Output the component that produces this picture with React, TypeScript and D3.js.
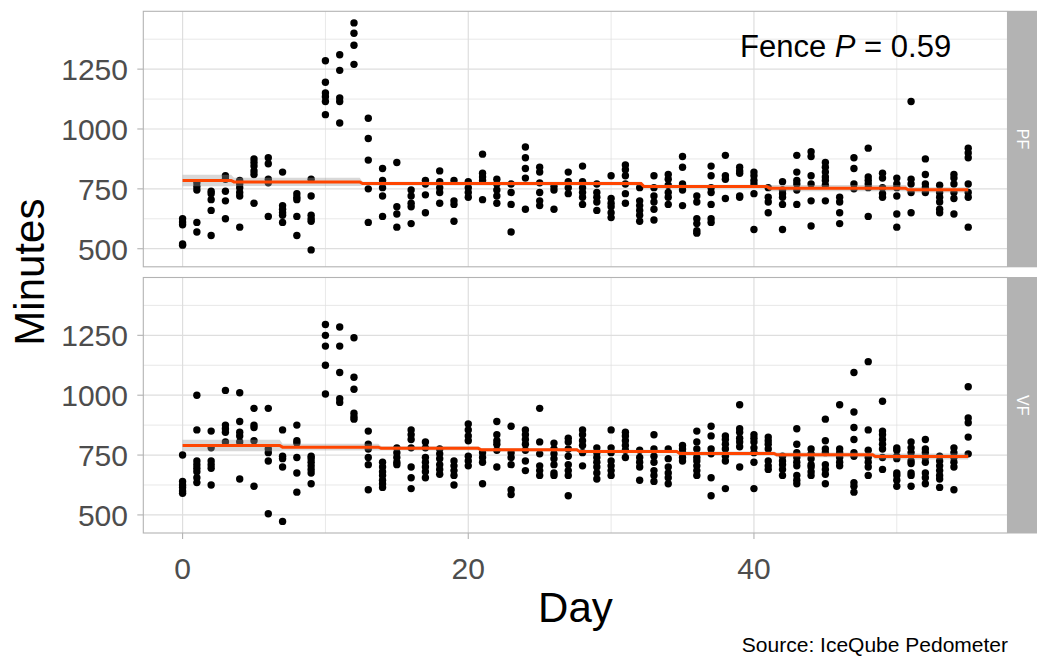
import React, { useEffect } from 'react';
import * as d3 from 'd3';

// ---------- data (minutes per cow per day) ----------
const facetLabels = ['PF', 'VF'];
const xTicks = [0, 20, 40];
const xMinorTicks = [10, 30, 50];
const yTicks = [500, 750, 1000, 1250];
const yMinorTicks = [625, 875, 1125, 1375];

// index = day (0..55)
const pfMinutes: number[][] = [
  [515, 520, 600, 612, 625],
  [775, 760, 745, 610, 570],
  [740, 730, 705, 660, 555],
  [805, 790, 740, 700, 625],
  [785, 770, 755, 735, 720, 590],
  [875, 860, 845, 825, 810, 690],
  [880, 855, 790, 775, 635],
  [820, 680, 665, 650, 640, 610],
  [730, 715, 705, 635, 555],
  [790, 720, 640, 625, 615, 495],
  [1285, 1195, 1150, 1135, 1115, 1060],
  [1310, 1245, 1130, 1115, 1025],
  [1443, 1400, 1350, 1270],
  [1045, 960, 870, 750, 610],
  [835, 785, 755, 720, 635],
  [860, 675, 645, 590],
  [745, 720, 690, 675, 605],
  [785, 770, 725, 650],
  [825, 780, 755, 735, 690],
  [785, 700, 685, 615],
  [780, 755, 735, 715],
  [895, 815, 800, 785, 705],
  [790, 770, 745, 720, 690],
  [770, 735, 685, 570],
  [925, 880, 835, 795, 665],
  [840, 820, 775, 735, 700, 680],
  [760, 745, 665],
  [820, 780, 755, 730],
  [845, 780, 755, 735, 715, 685],
  [770, 735, 715, 695, 660],
  [805, 710, 690, 675, 650, 630],
  [850, 830, 805, 770, 730, 690],
  [755, 700, 680, 660, 640, 615],
  [805, 755, 720, 695, 665, 620],
  [810, 790, 765, 735, 715, 685],
  [885, 840, 770, 745, 680],
  [720, 695, 625, 605, 575, 565],
  [845, 805, 755, 735, 685, 625, 610],
  [890, 805, 790, 710],
  [840, 825, 815, 720, 715],
  [820, 805, 785, 770, 730, 580],
  [755, 715, 695, 650],
  [780, 745, 730, 715, 685, 580],
  [890, 820, 785, 770, 745, 685],
  [905, 885, 805, 770, 700, 595],
  [860, 840, 820, 800, 785, 765, 700],
  [715, 695, 650, 605],
  [880, 835, 770, 750],
  [920, 800, 785, 770, 755, 635],
  [815, 795, 755, 730, 715],
  [795, 770, 755, 720, 645, 590],
  [1115, 790, 770, 735, 650],
  [875, 810, 770, 755, 735],
  [765, 735, 715, 695, 665, 650],
  [810, 795, 770, 735, 710, 645],
  [920, 900, 880, 770, 735, 715, 590],
];

const vfMinutes: number[][] = [
  [750, 640, 625, 615, 600, 590],
  [1000, 855, 725, 710, 695, 680, 655, 635],
  [850, 780, 725, 710, 695, 625],
  [1020, 875, 860, 845, 805],
  [1010, 890, 845, 830, 805, 650],
  [945, 875, 865, 810, 620],
  [945, 775, 760, 725, 505],
  [855, 745, 735, 700, 473],
  [875, 810, 800, 740, 675, 595],
  [745, 735, 720, 705, 690, 675, 630],
  [1295, 1250, 1205, 1125, 1005],
  [1285, 1205, 1095, 985, 970],
  [1240, 1075, 1025, 925, 910, 900],
  [850, 795, 775, 740, 710, 605],
  [720, 700, 680, 665, 645, 630, 615],
  [780, 760, 740, 720, 710],
  [855, 835, 815, 780, 700, 655, 610],
  [805, 780, 740, 720, 700, 680, 655],
  [775, 755, 735, 710, 690, 670],
  [725, 705, 685, 665, 625],
  [880, 855, 830, 810, 745, 725, 705],
  [760, 740, 720, 630],
  [890, 835, 810, 795, 770, 700],
  [870, 760, 740, 710, 605, 585],
  [855, 835, 815, 795, 770, 725, 685],
  [945, 805, 755, 705, 685, 665],
  [800, 775, 755, 735, 710, 675, 665],
  [820, 805, 775, 745, 710, 685, 665, 580],
  [855, 835, 810, 790, 760, 705],
  [780, 760, 740, 720, 700, 675, 650],
  [855, 780, 760, 725, 705, 685, 665],
  [845, 830, 810, 790, 770, 740],
  [770, 740, 720, 700, 645],
  [835, 775, 745, 720, 685, 665, 640],
  [775, 735, 700, 675, 655, 630],
  [790, 775, 760, 740, 725],
  [850, 805, 775, 740, 725, 705, 685, 665],
  [870, 830, 775, 755, 655, 580],
  [830, 815, 795, 775, 745, 725, 610],
  [960, 860, 845, 820, 805, 785, 700],
  [835, 820, 805, 780, 760, 720, 610],
  [825, 810, 795, 775, 725, 705, 690],
  [745, 725, 710, 690, 665],
  [860, 795, 760, 740, 720, 705, 665, 645, 630],
  [775, 755, 735, 710, 700, 680, 665],
  [900, 810, 775, 760, 710, 690, 670, 630],
  [960, 775, 760, 740, 720, 705],
  [1095, 930, 865, 815, 760, 745, 635, 620, 595],
  [1140, 855, 770, 740, 720, 700, 665],
  [975, 850, 835, 815, 795, 775, 740, 690],
  [780, 770, 745, 735, 675, 665, 645, 620],
  [805, 780, 760, 725, 715, 675, 665, 620],
  [815, 775, 760, 740, 720, 675, 655, 630],
  [745, 725, 705, 685, 665, 650, 615],
  [780, 760, 740, 720, 700, 605],
  [1035, 905, 885, 825, 755],
];

// fitted model line (stepwise) and its standard-error band
const pfFitDays = [0, 3.4, 3.6, 12.4, 12.6, 32.1, 32.3, 40.9, 41.1, 50.6, 50.8, 55];
const pfFitValues = [785, 785, 779, 779, 772, 772, 760, 760, 753, 753, 746, 746];
const pfFitSe = [24, 24, 17, 17, 8, 8, 7, 7, 13, 13, 11, 11];

const vfFitDays = [0, 6.8, 7.0, 13.7, 13.9, 20.7, 20.9, 27.6, 27.8, 34.6, 34.8, 41.4, 41.6, 48.3, 48.5, 55];
const vfFitValues = [790, 790, 783, 783, 778, 778, 772, 772, 765, 765, 757, 757, 751, 751, 744, 744];
const vfFitSe = [24, 24, 14, 14, 9, 9, 7, 7, 7, 7, 8, 8, 10, 10, 13, 13];

const annotationText = { label: 'Fence ', italic: 'P', rest: ' = 0.59' };
const captionText = 'Source: IceQube Pedometer';

// ---------- layout ----------
const W = 1037;
const H = 658;
const panelLeft = 143.3;
const panelRight = 1007.5;
const panelTops = [11.3, 277.5];
const panelH = 255.5;
const stripW = 30;
const FONT = '"Liberation Sans", Arial, Helvetica, sans-serif';

export default function App() {
  useEffect(() => {
    document.body.style.margin = '0';
  }, []);

  const panels = [
    { label: facetLabels[0], pts: pfMinutes, fd: pfFitDays, fv: pfFitValues, fs: pfFitSe },
    { label: facetLabels[1], pts: vfMinutes, fd: vfFitDays, fv: vfFitValues, fs: vfFitSe },
  ];

  const allVals = [...pfMinutes.flat(), ...vfMinutes.flat()];
  const [yMin, yMax] = d3.extent(allVals) as [number, number];
  const yPad = (yMax - yMin) * 0.05;
  const xDataMax = pfMinutes.length - 1;
  const xPad = xDataMax * 0.05;

  const x = d3.scaleLinear().domain([0 - xPad, xDataMax + xPad]).range([panelLeft, panelRight]);

  const gridCol = '#DEDEDE';
  const borderCol = '#B3B3B3';

  return (
    <svg
      width={W}
      height={H}
      viewBox={`0 0 ${W} ${H}`}
      style={{ position: 'absolute', left: 0, top: 0, display: 'block', background: '#fff' }}
      fontFamily={FONT}
    >
      <rect x={0} y={0} width={W} height={H} fill="#fff" />
      {panels.map((p, pi) => {
        const top = panelTops[pi];
        const y = d3.scaleLinear().domain([yMin - yPad, yMax + yPad]).range([top + panelH, top]);
        const fitData = p.fd.map((d, i) => ({ d, v: p.fv[i], s: p.fs[i] }));
        const area = d3
          .area<{ d: number; v: number; s: number }>()
          .x((o) => x(o.d))
          .y0((o) => y(o.v - o.s))
          .y1((o) => y(o.v + o.s));
        const line = d3
          .line<{ d: number; v: number; s: number }>()
          .x((o) => x(o.d))
          .y((o) => y(o.v));
        const points: { d: number; v: number }[] = [];
        p.pts.forEach((vals, day) => vals.forEach((v) => points.push({ d: day, v })));
        return (
          <g key={p.label}>
            {/* minor grid */}
            {yMinorTicks.map((t) => (
              <line key={'ym' + t} x1={panelLeft} x2={panelRight} y1={y(t)} y2={y(t)} stroke={gridCol} strokeWidth={0.7} />
            ))}
            {xMinorTicks.map((t) => (
              <line key={'xm' + t} x1={x(t)} x2={x(t)} y1={top} y2={top + panelH} stroke={gridCol} strokeWidth={0.7} />
            ))}
            {/* major grid */}
            {yTicks.map((t) => (
              <line key={'yM' + t} x1={panelLeft} x2={panelRight} y1={y(t)} y2={y(t)} stroke={gridCol} strokeWidth={1.2} />
            ))}
            {xTicks.map((t) => (
              <line key={'xM' + t} x1={x(t)} x2={x(t)} y1={top} y2={top + panelH} stroke={gridCol} strokeWidth={1.2} />
            ))}
            {/* points */}
            {points.map((o, i) => (
              <circle key={i} cx={x(o.d)} cy={y(o.v)} r={3.7} fill="#000" />
            ))}
            {/* ribbon + fit */}
            <path d={area(fitData) || ''} fill="#999999" fillOpacity={0.38} />
            <path d={line(fitData) || ''} fill="none" stroke="#FF4500" strokeWidth={3} />
            {/* border */}
            <rect x={panelLeft} y={top} width={panelRight - panelLeft} height={panelH} fill="none" stroke={borderCol} strokeWidth={1.1} />
            {/* strip */}
            <rect x={panelRight + 0.5} y={top - 0.5} width={stripW} height={panelH + 1} fill="#B3B3B3" />
            <text
              transform={`translate(${panelRight + 0.5 + stripW / 2 - 1}, ${top + panelH / 2}) rotate(90)`}
              textAnchor="middle"
              dominantBaseline="central"
              fontSize={16}
              fill="#FFFFFF"
            >
              {p.label}
            </text>
            {/* y ticks and labels */}
            {yTicks.map((t) => (
              <g key={'yt' + t}>
                <line x1={panelLeft - 6} x2={panelLeft} y1={y(t)} y2={y(t)} stroke={borderCol} strokeWidth={1.1} />
                <text x={128} y={y(t)} dy="0.36em" textAnchor="end" fontSize={30} fill="#4D4D4D">
                  {t}
                </text>
              </g>
            ))}
            {pi === 0 && (
              <text x={740} y={57} fontSize={31} fill="#000">
                {annotationText.label}
                <tspan fontStyle="italic">{annotationText.italic}</tspan>
                {annotationText.rest}
              </text>
            )}
            {pi === panels.length - 1 &&
              xTicks.map((t) => (
                <g key={'xt' + t}>
                  <line x1={x(t)} x2={x(t)} y1={top + panelH} y2={top + panelH + 6} stroke={borderCol} strokeWidth={1.1} />
                  <text x={x(t)} y={579} textAnchor="middle" fontSize={30} fill="#4D4D4D">
                    {t}
                  </text>
                </g>
              ))}
          </g>
        );
      })}
      {/* axis titles */}
      <text x={(panelLeft + panelRight) / 2} y={622} textAnchor="middle" fontSize={42} fill="#000">
        Day
      </text>
      <text transform={`translate(44, ${(panelTops[0] + panelTops[1] + panelH) / 2}) rotate(-90)`} textAnchor="middle" fontSize={42} fill="#000">
        Minutes
      </text>
      <text x={1008} y={652} textAnchor="end" fontSize={21} fill="#000">
        {captionText}
      </text>
    </svg>
  );
}
